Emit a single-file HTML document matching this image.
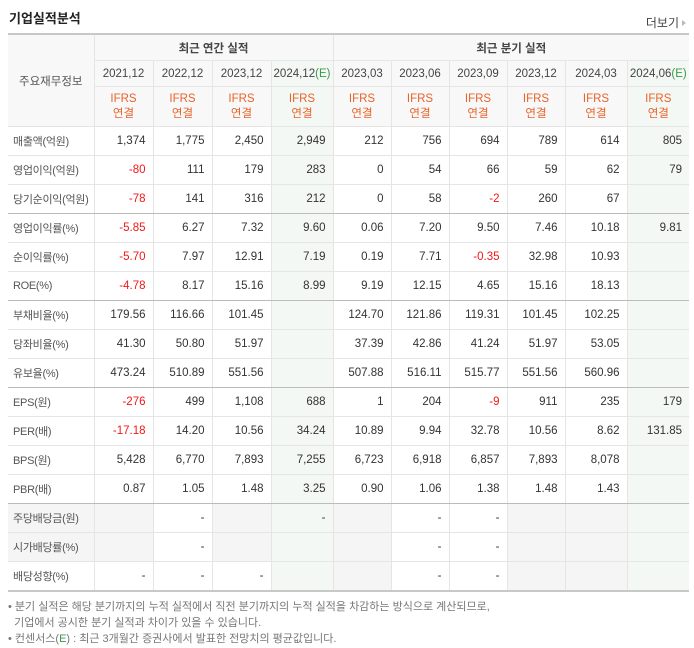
<!DOCTYPE html>
<html><head><meta charset="utf-8">
<style>
body{margin:0;width:694px;height:648px;background:#fff;font-family:"Liberation Sans","Noto Sans CJK KR","NanumGothic",sans-serif;color:#333;position:relative;overflow:hidden}
.title{position:absolute;left:9px;top:8px;font-size:13px;font-weight:bold;color:#222}
.more{position:absolute;right:8px;top:14px;font-size:12px;color:#444}
.more:after{content:"";display:inline-block;border-left:4px solid #bbb;border-top:3px solid transparent;border-bottom:3px solid transparent;margin-left:3px;vertical-align:1px}
table{position:absolute;left:8px;top:33px;border-collapse:collapse;table-layout:fixed;width:681px;font-size:11.5px}
td,th{border:1px solid #e5e5e5;padding:0 7px 0 0;text-align:right;white-space:nowrap;overflow:hidden}
table{border-top:2px solid #c8c8c8;border-bottom:2px solid #c8c8c8}
tr td:first-child,tr th:first-child{border-left:none}
tr td:last-child,tr th:last-child{border-right:none}
th{font-weight:normal;background:#f8f8f8;text-align:center;padding:0}
th.h1{font-weight:bold;color:#444;height:25px}
th.h2{height:25px;color:#444}
th.h3{height:39px;color:#e8632a;line-height:15px}
.lab{text-align:left;padding-left:5px;color:#555;font-size:11px;letter-spacing:-0.3px}
.g{background:#f3f8f4}
.q{background:#f5f5f5}
.n{color:#f01818}
.e{color:#3a9a4a}
tbody tr{height:29px}
tr.gb td{border-bottom:1px solid #bbb}
.sep{border-left:1px solid #ccc !important}
.notes{position:absolute;left:8px;top:599px;font-size:11px;color:#777;line-height:16px}
.notes .b{color:#3a9a4a}
</style></head><body>
<div class="title">기업실적분석</div>
<div class="more">더보기</div>
<table>
<colgroup><col style="width:86px"><col style="width:59px"><col style="width:59px"><col style="width:59px"><col style="width:62px"><col style="width:58px"><col style="width:58px"><col style="width:58px"><col style="width:58px"><col style="width:62px"><col style="width:62px"></colgroup>
<thead>
<tr><th rowspan="3" class="h1" style="font-weight:normal;color:#555">주요재무정보</th><th colspan="4" class="h1">최근 연간 실적</th><th colspan="6" class="h1 sep">최근 분기 실적</th></tr>
<tr id="r2"></tr>
<tr id="r3"></tr>
</thead>
<tbody id="tb"></tbody>
</table>
<div class="notes">
<div>• 분기 실적은 해당 분기까지의 누적 실적에서 직전 분기까지의 누적 실적을 차감하는 방식으로 계산되므로,</div>
<div>&nbsp;&nbsp;기업에서 공시한 분기 실적과 차이가 있을 수 있습니다.</div>
<div>• 컨센서스(<span class="b">E</span>) : 최근 3개월간 증권사에서 발표한 전망치의 평균값입니다.</div>
</div>
<script>
const periods=["2021.12","2022.12","2023.12","2024.12","2023.03","2023.06","2023.09","2023.12","2024.03","2024.06"];
const estimate=[false,false,false,true,false,false,false,false,false,true];
const labels=["매출액(억원)","영업이익(억원)","당기순이익(억원)","영업이익률(%)","순이익률(%)","ROE(%)","부채비율(%)","당좌비율(%)","유보율(%)","EPS(원)","PER(배)","BPS(원)","PBR(배)","주당배당금(원)","시가배당률(%)","배당성향(%)"];
const rows=[
["1,374","1,775","2,450","2,949","212","756","694","789","614","805"],
["-80","111","179","283","0","54","66","59","62","79"],
["-78","141","316","212","0","58","-2","260","67",""],
["-5.85","6.27","7.32","9.60","0.06","7.20","9.50","7.46","10.18","9.81"],
["-5.70","7.97","12.91","7.19","0.19","7.71","-0.35","32.98","10.93",""],
["-4.78","8.17","15.16","8.99","9.19","12.15","4.65","15.16","18.13",""],
["179.56","116.66","101.45","","124.70","121.86","119.31","101.45","102.25",""],
["41.30","50.80","51.97","","37.39","42.86","41.24","51.97","53.05",""],
["473.24","510.89","551.56","","507.88","516.11","515.77","551.56","560.96",""],
["-276","499","1,108","688","1","204","-9","911","235","179"],
["-17.18","14.20","10.56","34.24","10.89","9.94","32.78","10.56","8.62","131.85"],
["5,428","6,770","7,893","7,255","6,723","6,918","6,857","7,893","8,078",""],
["0.87","1.05","1.48","3.25","0.90","1.06","1.38","1.48","1.43",""],
["G","-","G","-","G","-","-","G","G",""],
["G","-","G","","G","-","-","G","G",""],
["-","-","-","","G","-","-","G","G",""]
];
const groupEnds=[2,5,8,12];
const r2=document.getElementById('r2'),r3=document.getElementById('r3'),tb=document.getElementById('tb');
periods.forEach((p,i)=>{
  const th=document.createElement('th');th.className='h2'+(estimate[i]?' g':'')+(i==4?' sep':'');
  th.innerHTML=p.replace('.',',')+(estimate[i]?'<span class="e">(E)</span>':'');
  
  
  r2.appendChild(th);
  const t3=document.createElement('th');t3.className='h3'+(estimate[i]?' g':'')+(i==4?' sep':'');
  t3.innerHTML='IFRS<br>연결';
  
  
  r3.appendChild(t3);
});
labels.forEach((l,ri)=>{
  const tr=document.createElement('tr');
  if(groupEnds.includes(ri))tr.className='gb';
  
  
  const td=document.createElement('td');td.className='lab';td.textContent=l;
  if(ri>=13&&rows[ri][0]==='G')td.classList.add('q');
  
  
  tr.appendChild(td);
  rows[ri].forEach((v,ci)=>{
    const c=document.createElement('td');
    let cls=[];
    if(estimate[ci])cls.push('g');
    if(ci==4)cls.push('sep');
    if(v==='G'){cls.push('q');v='';}
    if(v.startsWith('-')&&v.length>1)cls.push('n');
    c.className=cls.join(' ');c.textContent=v;
    
    
    tr.appendChild(c);
  });
  tb.appendChild(tr);
});
</script>
</body></html>
